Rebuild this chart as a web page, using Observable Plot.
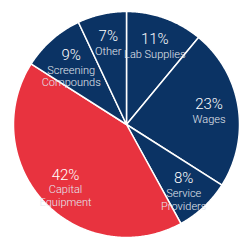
<!DOCTYPE html>
<html><head><meta charset="utf-8">
<script src="https://cdn.jsdelivr.net/npm/d3@7"></script>
<script src="https://cdn.jsdelivr.net/npm/@observablehq/plot@0.6"></script>
<style>body{margin:0;background:#fff}</style>
</head><body><div id="chart"></div>
<script>
const categories = ["Lab Supplies","Wages","Service Providers","Capital Equipment","Screening Compounds","Other"];
const labels = ["Lab Supplies","Wages","Service\nProviders","Capital\nEquipment","Screening\nCompounds","Other"];
const values = [11,23,8,42,9,7];
const colors = ["#0b3364","#0b3364","#0b3364","#e8333f","#0b3364","#0b3364"];

const arcs = d3.pie().sort(null).value(d => d)(values);
const slices = [];
arcs.forEach((a, i) => {
  const n = Math.max(2, Math.ceil((a.endAngle - a.startAngle) / 0.01));
  slices.push({cat: categories[i], x: 0, y: 0});
  for (let k = 0; k <= n; k++) {
    const t = a.startAngle + (a.endAngle - a.startAngle) * k / n;
    slices.push({cat: categories[i], x: Math.sin(t), y: Math.cos(t)});
  }
  slices.push({cat: categories[i], x: 0, y: 0});
});
const labelR = 0.74;
const lab = arcs.map((a, i) => {
  const m = (a.startAngle + a.endAngle) / 2;
  return {cat: categories[i], pct: values[i] + "%", name: labels[i], x: labelR * Math.sin(m), y: labelR * Math.cos(m)};
});

const chart = Plot.plot({
  width: 240, height: 240, margin: 0,
  style: {fontFamily: "Roboto, sans-serif", background: "white"},
  x: {domain: [-126/113, 114/113], axis: null},
  y: {domain: [-116/113, 124/113], axis: null},
  color: {domain: categories, range: colors},
  marks: [
    Plot.line(slices, {x: "x", y: "y", z: "cat", fill: "cat", stroke: "white", strokeWidth: 1.5, curve: "linear"}),
    Plot.text(lab, {x: "x", y: "y", text: "pct", lineAnchor: "bottom", dy: -2, fontSize: 15, fill: "white", fontWeight: 300}),
    Plot.text(lab, {x: "x", y: "y", text: "name", lineAnchor: "top", dy: 3, fontSize: 11, fill: "#e4e8ef", fontWeight: 300, lineHeight: 1.12})
  ]
});
document.getElementById("chart").appendChild(chart);
</script>
</body></html>
